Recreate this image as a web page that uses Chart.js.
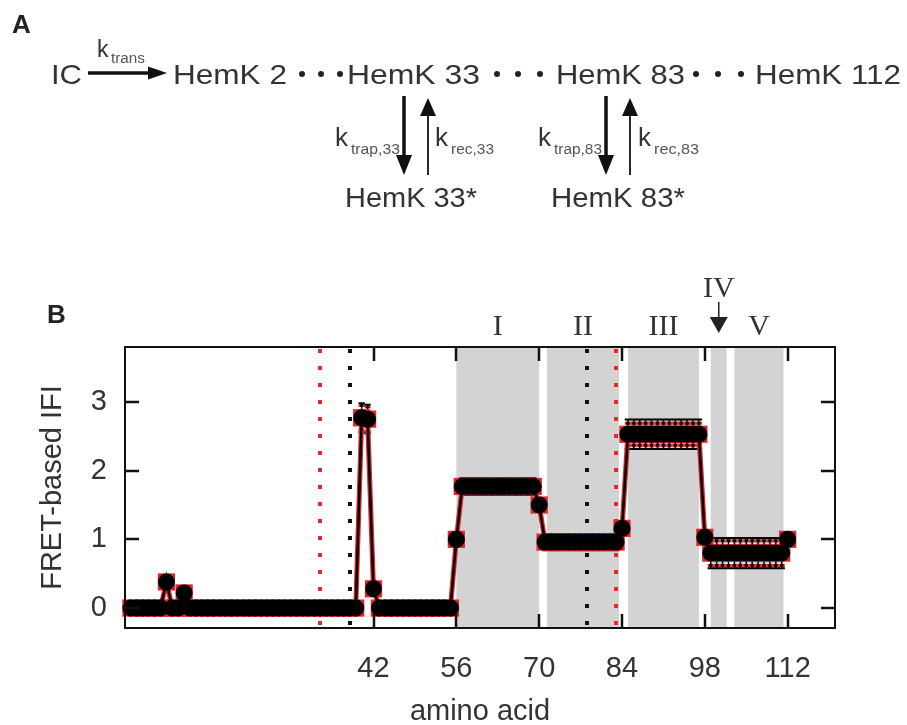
<!DOCTYPE html>
<html><head><meta charset="utf-8">
<script src="https://cdn.jsdelivr.net/npm/chart.js@4.4.0/dist/chart.umd.min.js"></script>
<style>
html,body{margin:0;padding:0;background:#fff;}
#wrap{position:relative;width:907px;height:725px;overflow:hidden;background:#fff;}
#c{position:absolute;left:0;top:0;}
#scheme{position:absolute;left:0;top:0;pointer-events:none;}
#scheme text{font-family:"Liberation Sans",Arial,sans-serif;fill:#333;}
</style></head><body>
<div id="wrap">
<canvas id="c" width="907" height="725"></canvas>
<svg id="scheme" width="907" height="725" viewBox="0 0 907 725">
  <text x="12" y="33" font-size="26" font-weight="bold" style="fill:#222">A</text>
  <text x="47" y="323" font-size="26" font-weight="bold" style="fill:#222">B</text>
  <!-- main row -->
  <text x="51" y="84" font-size="28" textLength="31" lengthAdjust="spacingAndGlyphs">IC</text>
  <text x="97" y="57" font-size="23">k</text>
  <text x="111" y="63" font-size="14" textLength="34" lengthAdjust="spacingAndGlyphs" style="fill:#555">trans</text>
  <line x1="88" y1="73" x2="152" y2="73" stroke="#111" stroke-width="3.5"/>
  <polygon points="148,66.5 167,73 148,79.5" fill="#111"/>
  <text x="173" y="84" font-size="28" textLength="114" lengthAdjust="spacingAndGlyphs">HemK 2</text>
  <circle cx="302" cy="74" r="3" fill="#222"/><circle cx="321" cy="74" r="3" fill="#222"/><circle cx="340" cy="74" r="3" fill="#222"/>
  <text x="347" y="84" font-size="28" textLength="133" lengthAdjust="spacingAndGlyphs">HemK 33</text>
  <circle cx="497" cy="74" r="3" fill="#222"/><circle cx="518" cy="74" r="3" fill="#222"/><circle cx="540" cy="74" r="3" fill="#222"/>
  <text x="556" y="84" font-size="28" textLength="129" lengthAdjust="spacingAndGlyphs">HemK 83</text>
  <circle cx="696" cy="74" r="3" fill="#222"/><circle cx="718" cy="74" r="3" fill="#222"/><circle cx="741" cy="74" r="3" fill="#222"/>
  <text x="755" y="84" font-size="28" textLength="146" lengthAdjust="spacingAndGlyphs">HemK 112</text>
  <!-- arrows 33 -->
  <line x1="404" y1="96" x2="404" y2="158" stroke="#111" stroke-width="3.5"/>
  <polygon points="396,155 412,155 404,175" fill="#111"/>
  <line x1="428" y1="112" x2="428" y2="175" stroke="#111" stroke-width="1.8"/>
  <polygon points="420,116 436,116 428,98" fill="#111"/>
  <text x="335" y="146" font-size="26">k</text>
  <text x="351" y="154" font-size="14" textLength="49" lengthAdjust="spacingAndGlyphs" style="fill:#555">trap,33</text>
  <text x="435" y="146" font-size="26">k</text>
  <text x="451" y="154" font-size="14" textLength="43" lengthAdjust="spacingAndGlyphs" style="fill:#555">rec,33</text>
  <!-- arrows 83 -->
  <line x1="606" y1="96" x2="606" y2="158" stroke="#111" stroke-width="3.5"/>
  <polygon points="598,155 614,155 606,175" fill="#111"/>
  <line x1="630" y1="112" x2="630" y2="175" stroke="#111" stroke-width="1.8"/>
  <polygon points="622,116 638,116 630,98" fill="#111"/>
  <text x="538" y="146" font-size="26">k</text>
  <text x="554" y="154" font-size="14" textLength="48" lengthAdjust="spacingAndGlyphs" style="fill:#555">trap,83</text>
  <text x="638" y="146" font-size="26">k</text>
  <text x="654" y="154" font-size="14" textLength="45" lengthAdjust="spacingAndGlyphs" style="fill:#555">rec,83</text>
  <text x="345" y="207" font-size="28" textLength="132" lengthAdjust="spacingAndGlyphs">HemK 33*</text>
  <text x="551" y="207" font-size="28" textLength="134" lengthAdjust="spacingAndGlyphs">HemK 83*</text>
</svg>
</div>
<script>
// ---------- data ----------
const aminoAcid = [
  1,2,3,4,5,6,7,8,9,10,
  11,12,13,14,15,16,17,18,19,20,
  21,22,23,24,25,26,27,28,29,30,
  31,32,33,34,35,36,37,38,39,40,
  41,42,43,44,45,46,47,48,49,50,
  51,52,53,54,55,56,57,58,59,60,
  61,62,63,64,65,66,67,68,69,70,
  71,72,73,74,75,76,77,78,79,80,
  81,82,83,84,85,86,87,88,89,90,
  91,92,93,94,95,96,97,98,99,100,
  101,102,103,104,105,106,107,108,109,110,
  111,112
];
const fretIFI = [
  0,0,0,0,0,0,0.38,0,0,0.22,
  0,0,0,0,0,0,0,0,0,0,
  0,0,0,0,0,0,0,0,0,0,
  0,0,0,0,0,0,0,0,0,2.77,
  2.75,0.28,0,0,0,0,0,0,0,0,
  0,0,0,0,0,1.00,1.77,1.77,1.77,1.77,
  1.77,1.77,1.77,1.77,1.77,1.77,1.77,1.77,1.77,1.50,
  0.96,0.96,0.96,0.96,0.96,0.96,0.96,0.96,0.96,0.96,
  0.96,0.96,0.96,1.16,2.53,2.53,2.53,2.53,2.53,2.53,
  2.53,2.53,2.53,2.53,2.53,2.53,2.53,1.03,0.80,0.80,
  0.80,0.80,0.80,0.80,0.80,0.80,0.80,0.80,0.80,0.80,
  0.80,1.00
];
// outer (solid) error bars
const errOuter = [
  0.03,0.03,0.03,0.03,0.03,0.03,0.04,0.03,0.03,0.04,
  0.03,0.03,0.03,0.03,0.03,0.03,0.03,0.03,0.03,0.03,
  0.03,0.03,0.03,0.03,0.03,0.03,0.03,0.03,0.03,0.03,
  0.03,0.03,0.03,0.03,0.03,0.03,0.03,0.03,0.03,0.21,
  0.21,0.04,0.03,0.03,0.03,0.03,0.03,0.03,0.03,0.03,
  0.03,0.03,0.03,0.03,0.03,0.05,0.12,0.12,0.12,0.12,
  0.12,0.12,0.12,0.12,0.12,0.12,0.12,0.12,0.12,0.05,
  0.12,0.12,0.12,0.12,0.12,0.12,0.12,0.12,0.12,0.12,
  0.12,0.12,0.12,0.05,0.215,0.215,0.215,0.215,0.215,0.215,
  0.215,0.215,0.215,0.215,0.215,0.215,0.215,0.05,0.22,0.22,
  0.22,0.22,0.22,0.22,0.22,0.22,0.22,0.22,0.22,0.22,
  0.22,0.05
];
// inner (dotted, red) error bars
const errInner = [
  0.03,0.03,0.03,0.03,0.03,0.03,0.04,0.03,0.03,0.04,
  0.03,0.03,0.03,0.03,0.03,0.03,0.03,0.03,0.03,0.03,
  0.03,0.03,0.03,0.03,0.03,0.03,0.03,0.03,0.03,0.03,
  0.03,0.03,0.03,0.03,0.03,0.03,0.03,0.03,0.03,0.18,
  0.18,0.04,0.03,0.03,0.03,0.03,0.03,0.03,0.03,0.03,
  0.03,0.03,0.03,0.03,0.03,0.05,0.10,0.10,0.10,0.10,
  0.10,0.10,0.10,0.10,0.10,0.10,0.10,0.10,0.10,0.05,
  0.10,0.10,0.10,0.10,0.10,0.10,0.10,0.10,0.10,0.10,
  0.10,0.10,0.10,0.05,0.16,0.16,0.16,0.16,0.16,0.16,
  0.16,0.16,0.16,0.16,0.16,0.16,0.16,0.05,0.18,0.18,
  0.18,0.18,0.18,0.18,0.18,0.18,0.18,0.18,0.18,0.18,
  0.18,0.05
];
const xTickValues = [42, 56, 70, 84, 98, 112];
const yTickValues = [0, 1, 2, 3];
const regionNames = ['I', 'II', 'III', 'IV', 'V'];
const regionStart = [56, 71.3, 85, 99, 103];
const regionEnd   = [70, 83.5, 97, 101.7, 111.3];
const redLines = [33, 83];
const blackLines = [38, 78];

const points = aminoAcid.map((x, i) => ({x: x, y: fretIFI[i]}));

const FONT = '"Liberation Sans", Arial, sans-serif';
const SERIF = '"Liberation Serif", "Times New Roman", serif';

const decor = {
  id: 'decor',
  beforeDatasetsDraw(chart) {
    const {ctx, chartArea: a, scales: {x, y}} = chart;
    ctx.save();
    ctx.fillStyle = '#d3d3d3';
    regionStart.forEach((s, i) => {
      const x0 = x.getPixelForValue(s), x1 = x.getPixelForValue(regionEnd[i]);
      ctx.fillRect(x0, a.top, x1 - x0, a.bottom - a.top);
    });
    ctx.lineWidth = 4;
    ctx.setLineDash([4, 13]);
    const dl = (v, col) => {
      const px = Math.round(x.getPixelForValue(v));
      ctx.strokeStyle = col;
      ctx.beginPath(); ctx.moveTo(px, a.top + 2); ctx.lineTo(px, a.bottom); ctx.stroke();
    };
    redLines.forEach(v => dl(v, '#e8262b'));
    blackLines.forEach(v => dl(v, '#111'));
    ctx.setLineDash([]);
    aminoAcid.forEach((v, i) => {
      const px = x.getPixelForValue(v);
      const yc = fretIFI[i];
      const eo = errOuter[i], ei = errInner[i];
      const yt = y.getPixelForValue(yc + eo), yb = y.getPixelForValue(yc - eo);
      ctx.strokeStyle = '#000'; ctx.lineWidth = 1.5;
      ctx.beginPath(); ctx.moveTo(px, yt); ctx.lineTo(px, yb); ctx.stroke();
      ctx.lineWidth = 2;
      ctx.beginPath();
      ctx.moveTo(px - 3.2, yt); ctx.lineTo(px + 3.2, yt);
      ctx.moveTo(px - 3.2, yb); ctx.lineTo(px + 3.2, yb);
      ctx.stroke();
      const it = y.getPixelForValue(yc + ei), ib = y.getPixelForValue(yc - ei);
      ctx.strokeStyle = '#e8262b'; ctx.lineWidth = 3;
      ctx.beginPath();
      ctx.moveTo(px - 3, it); ctx.lineTo(px + 3, it);
      ctx.moveTo(px - 3, ib); ctx.lineTo(px + 3, ib);
      ctx.stroke();
      ctx.strokeStyle = '#000'; ctx.lineWidth = 3;
      ctx.beginPath();
      ctx.moveTo(px - 1.6, it); ctx.lineTo(px + 1.6, it);
      ctx.moveTo(px - 1.6, ib); ctx.lineTo(px + 1.6, ib);
      ctx.stroke();
    });
    ctx.restore();
  },
  afterDraw(chart) {
    const {ctx, chartArea: a, scales: {x, y}} = chart;
    ctx.save();
    ctx.strokeStyle = '#111';
    ctx.lineWidth = 2;
    ctx.strokeRect(a.left, a.top, a.right - a.left, a.bottom - a.top);
    ctx.lineWidth = 2.5;
    const tl = 14;
    ctx.beginPath();
    xTickValues.forEach(v => {
      const px = Math.round(x.getPixelForValue(v));
      ctx.moveTo(px, a.bottom); ctx.lineTo(px, a.bottom - tl);
      ctx.moveTo(px, a.top); ctx.lineTo(px, a.top + tl);
    });
    yTickValues.forEach(v => {
      const py = Math.round(y.getPixelForValue(v));
      ctx.moveTo(a.left, py); ctx.lineTo(a.left + tl, py);
      ctx.moveTo(a.right, py); ctx.lineTo(a.right - tl, py);
    });
    ctx.stroke();
    ctx.fillStyle = '#333';
    ctx.font = '30px ' + SERIF;
    ctx.textAlign = 'center';
    ctx.textBaseline = 'alphabetic';
    regionNames.forEach((n, i) => {
      const cx = x.getPixelForValue((regionStart[i] + regionEnd[i]) / 2);
      if (n === 'IV') {
        ctx.fillText(n, cx, a.top - 50);
        ctx.strokeStyle = '#222'; ctx.lineWidth = 1.5;
        ctx.beginPath(); ctx.moveTo(cx, a.top - 45); ctx.lineTo(cx, a.top - 28); ctx.stroke();
        ctx.fillStyle = '#222';
        ctx.beginPath(); ctx.moveTo(cx - 9, a.top - 30); ctx.lineTo(cx + 9, a.top - 30); ctx.lineTo(cx, a.top - 14); ctx.closePath(); ctx.fill();
        ctx.fillStyle = '#333';
      } else {
        ctx.fillText(n, cx, a.top - 12);
      }
    });
    ctx.restore();
  }
};

new Chart(document.getElementById('c'), {
  type: 'line',
  data: {
    datasets: [
      {
        label: 'model',
        data: points,
        borderColor: '#000',
        borderWidth: 2.5,
        pointStyle: 'circle',
        pointRadius: 8.5,
        pointBackgroundColor: '#000',
        pointBorderWidth: 0,
        tension: 0,
        clip: 10
      },
      {
        label: 'experiment',
        data: points,
        borderColor: '#e3262b',
        borderWidth: 5,
        pointStyle: 'rect',
        pointRadius: 12.2,
        pointBackgroundColor: '#e3262b',
        pointBorderWidth: 0,
        tension: 0,
        clip: 10
      }
    ]
  },
  options: {
    responsive: false,
    animation: false,
    devicePixelRatio: 1,
    layout: {padding: {top: 347, right: 72, left: 0, bottom: 0}},
    plugins: {legend: {display: false}, tooltip: {enabled: false}},
    scales: {
      x: {
        type: 'linear', min: 0, max: 120,
        afterBuildTicks: s => { s.ticks = xTickValues.map(v => ({value: v})); },
        afterFit: s => { s.height = 97; },
        grid: {display: false, drawTicks: false},
        border: {display: false},
        ticks: {padding: 24, color: '#333', font: {family: FONT, size: 29}, maxRotation: 0, autoSkip: false},
        title: {display: true, text: 'amino acid', color: '#333', font: {family: FONT, size: 29, lineHeight: 0.9}, padding: {top: 0, bottom: 0}}
      },
      y: {
        type: 'linear', min: -0.29, max: 3.8,
        afterBuildTicks: s => { s.ticks = yTickValues.map(v => ({value: v})); },
        afterFit: s => { s.width = 125; },
        grid: {display: false, drawTicks: false},
        border: {display: false},
        ticks: {padding: 18, color: '#333', font: {family: FONT, size: 29}},
        title: {display: true, text: 'FRET-based IFI', color: '#333', font: {family: FONT, size: 29, lineHeight: 1.2}, padding: {top: 36, bottom: 0}}
      }
    }
  },
  plugins: [decor]
});
</script>
</body></html>
